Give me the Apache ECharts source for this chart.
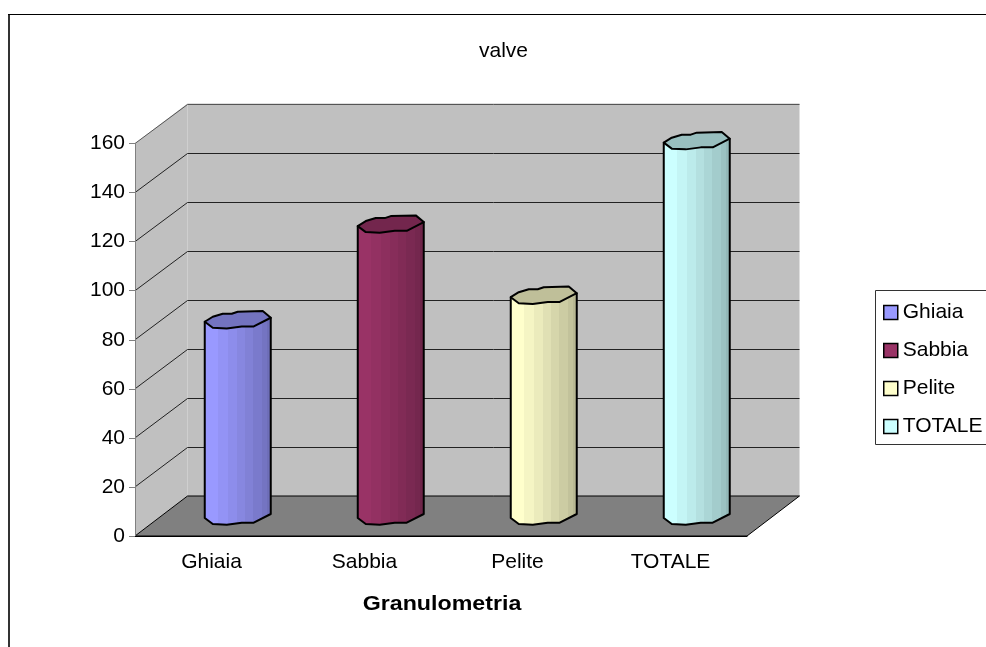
<!DOCTYPE html>
<html>
<head>
<meta charset="utf-8">
<style>html,body{margin:0;padding:0;background:#fff}#chart{width:986px;height:647px}</style>
<script src="https://cdn.jsdelivr.net/npm/echarts@6/dist/echarts.min.js"></script>
</head>
<body>
<div id="chart"></div>
<script>
// Granulometry categories and their values
const categories = ['Ghiaia', 'Sabbia', 'Pelite', 'TOTALE'];
const values = [80, 119, 90, 153];
const colors = ['#9999FF', '#993366', '#FFFFCC', '#CCFFFF'];
const yTicks = [0, 20, 40, 60, 80, 100, 120, 140, 160];

// Oblique projection of the chart box, in pixels
const DX = 52.5, DY = -40;
// Faceted outline of a cylinder cap around its centre, clockwise from the left
const rim = [[-33,2],[-25,-3],[-15,-6],[-6,-6],[0,-8],[25,-8.7],[33,-2],[16,6.7],[4,6.7],[-11,8.7],[-25,8]];
// Front half of the cap, left to right
const frontArc = [rim[0], rim[10], rim[9], rim[8], rim[7], rim[6]];
// Shading bands across the cylinder body: [position, brightness]
const bands = [[0,1],[0.21,0.96],[0.35,0.92],[0.49,0.88],[0.6,0.84],[0.73,0.8],[0.85,0.76],[0.93,0.72],[1,0.72]];

function shade(hex, k) {
  const n = parseInt(hex.slice(1), 16);
  const c = [n >> 16, (n >> 8) & 255, n & 255].map(v => Math.round(v * k));
  return 'rgb(' + c.join(',') + ')';
}
function bandStops(hex) {
  const stops = [];
  bands.forEach((b, i) => {
    if (i > 0) stops.push({ offset: b[0], color: shade(hex, bands[i - 1][1]) });
    stops.push({ offset: b[0], color: shade(hex, b[1]) });
  });
  return stops;
}

function renderBox(params, api) {
  const g = params.coordSys;
  const x0 = g.x, x1 = g.x + g.width, yT = g.y, yB = g.y + g.height;
  const poly = (points, fill, stroke) => ({
    type: 'polygon', shape: { points },
    style: { fill, stroke: stroke || 'none', lineWidth: 1 }
  });
  return { type: 'group', children: [
    poly([[x0 + DX, yT + DY], [x1 + DX, yT + DY], [x1 + DX, yB + DY], [x0 + DX, yB + DY]], '#C0C0C0'),
    poly([[x0, yT], [x0 + DX, yT + DY], [x0 + DX, yB + DY], [x0, yB]], '#C0C0C0'),
    poly([[x0, yB], [x1, yB], [x1 + DX, yB + DY], [x0 + DX, yB + DY]], '#808080', '#000')
  ]};
}

function renderGridLine(params, api) {
  const g = params.coordSys;
  const v = api.value(0);
  if (v === 0) return null;
  const y = api.coord([0, v])[1];
  const by = Math.round(y + DY) + 0.5;
  return { type: 'polyline', shape: { points: [[g.x, y], [g.x + DX, by], [g.x + g.width + DX, by]] },
    style: { fill: 'none', stroke: v === 160 ? '#555' : '#222', lineWidth: 1 } };
}

function renderCylinder(hex) {
  return function (params, api) {
    const top = api.coord([api.value(0), api.value(1)]);
    const base = api.coord([api.value(0), 0]);
    const cx = top[0] + DX / 2, ty = top[1] + DY / 2, by = base[1] + DY / 2;
    const at = (cy) => (p) => [cx + p[0], cy + p[1]];
    const body = frontArc.map(at(by));
    body.push(at(ty)(frontArc[5]), at(ty)(frontArc[0]));
    const stroke = { stroke: '#000', lineWidth: 2, lineJoin: 'round' };
    return { type: 'group', children: [
      { type: 'polygon', shape: { points: body },
        style: Object.assign({ fill: new echarts.graphic.LinearGradient(0, 0, 1, 0, bandStops(hex)) }, stroke) },
      { type: 'polygon', shape: { points: rim.map(at(ty)) },
        style: Object.assign({ fill: shade(hex, 0.75) }, stroke) }
    ]};
  };
}

const font = 'Liberation Sans, Arial, sans-serif';
const chart = echarts.init(document.getElementById('chart'), null, { renderer: 'canvas' });
chart.setOption({
  animation: false,
  backgroundColor: '#fff',
  title: { text: 'valve', left: 474, top: 36,
    textStyle: { fontFamily: font, fontSize: 21, fontWeight: 'normal', color: '#000' } },
  grid: { left: 135, top: 143.5, width: 612, height: 392.5, containLabel: false },
  xAxis: {
    type: 'category', data: categories, z: 10,
    axisLine: { lineStyle: { color: '#000', width: 1 } },
    axisTick: { length: 6, lineStyle: { color: '#808080' } },
    axisLabel: { fontFamily: font, fontSize: 21, color: '#000', margin: 16 },
    splitLine: { show: false }
  },
  yAxis: {
    type: 'value', min: 0, max: 160, interval: 20, z: 10,
    axisLine: { show: true, lineStyle: { color: '#808080', width: 1 } },
    axisTick: { show: true, length: 6, lineStyle: { color: '#808080' } },
    axisLabel: { fontFamily: font, fontSize: 21, color: '#000', margin: 10, padding: [8, 0, 0, 0] },
    splitLine: { show: false }
  },
  legend: {
    orient: 'vertical', left: 883, top: 302, padding: 0, itemGap: 17,
    itemWidth: 14, itemHeight: 14, selectedMode: false, icon: 'rect',
    textStyle: { fontFamily: font, fontSize: 21, color: '#000', padding: [-8, 0, 0, 0] },
    data: categories.map((name, i) => ({ name, itemStyle: { color: colors[i], borderColor: '#000', borderWidth: 1.5 } }))
  },
  graphic: [
    // Chart frame and legend frame, both running off the right side of the page
    { type: 'rect', silent: true, z: -1, shape: { x: 8, y: 14, width: 2, height: 640 }, style: { fill: '#333' } },
    { type: 'rect', silent: true, z: -1, shape: { x: 8, y: 14, width: 990, height: 1 }, style: { fill: '#000' } },
    { type: 'rect', silent: true, z: -1, shape: { x: 875.5, y: 290.5, width: 130, height: 154 },
      style: { fill: '#fff', stroke: '#333', lineWidth: 1 } },
    // Category axis title, widened to the tracking of the other labels
    { type: 'text', silent: true, x: 442, y: 604, scaleX: 1.16,
      style: { text: 'Granulometria', fontFamily: font, fontSize: 20, fontWeight: 'bold', fill: '#000',
        align: 'center', verticalAlign: 'middle' } }
  ],
  series: [
    { type: 'custom', name: 'box', coordinateSystem: 'cartesian2d', silent: true, z: 1,
      data: [[0, 0]], renderItem: renderBox },
    { type: 'custom', name: 'gridlines', coordinateSystem: 'cartesian2d', silent: true, z: 2,
      encode: { y: 0 }, data: yTicks.map(v => [v]), renderItem: renderGridLine }
  ].concat(categories.map((name, i) => ({
    type: 'custom', name, coordinateSystem: 'cartesian2d', silent: true, z: 3,
    itemStyle: { color: colors[i] },
    encode: { x: 0, y: 1 },
    data: [[i, values[i]]],
    renderItem: renderCylinder(colors[i])
  })))
});
</script>
</body>
</html>
